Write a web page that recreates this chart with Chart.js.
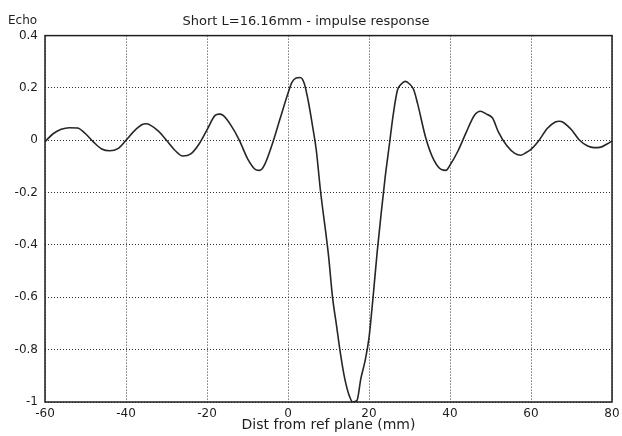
<!DOCTYPE html>
<html>
<head>
<meta charset="utf-8">
<script src="https://cdn.jsdelivr.net/npm/chart.js@4/dist/chart.umd.min.js"></script>
<style>
  html, body { margin: 0; padding: 0; background: #fff; }
  #wrap { width: 622px; height: 436px; }
</style>
</head>
<body>
<div id="wrap"><canvas id="echoChart"></canvas></div>
<script>
// Distance from reference plane (mm) and echo amplitude
const distMm = [-60, -58, -56, -54, -52, -50, -48, -46, -44, -42, -40, -38, -36, -35, -34, -32, -30, -28, -26, -24,
    -22, -20, -18, -17, -16, -14, -12, -10, -8, -7, -6, -4, -2, 0, 1, 2, 3, 4, 5, 6,
    7, 8, 10, 11, 12, 13, 14, 15, 16, 17, 18, 19, 20, 21, 22, 23, 24, 25, 26, 27, 28,
    29, 30, 31, 32, 34, 36, 38, 39, 40, 42, 44, 46, 47.5, 49, 50.5, 52, 54, 56, 57.5, 59,
    60, 62, 64, 66, 67, 68, 70, 72, 74, 75.5, 77, 79, 80];
const echo = [-0.005, 0.025, 0.042, 0.048, 0.047, 0.025, -0.007, -0.033, -0.040, -0.032, 0.0, 0.035, 0.060, 0.063, 0.058, 0.035, 0.0, -0.037, -0.060, -0.052,
    -0.015, 0.040, 0.095, 0.100, 0.095, 0.055, 0.0, -0.070, -0.112, -0.115, -0.100, -0.020, 0.080, 0.180, 0.222, 0.238, 0.240, 0.218, 0.150, 0.060,
    -0.040, -0.190, -0.440, -0.600, -0.710, -0.820, -0.910, -0.970, -1.0, -0.995, -0.910, -0.845, -0.755, -0.600, -0.430, -0.280, -0.140, -0.020, 0.100, 0.190, 0.215,
    0.225, 0.215, 0.195, 0.140, 0.010, -0.075, -0.113, -0.115, -0.095, -0.040, 0.030, 0.095, 0.111, 0.100, 0.085, 0.030, -0.020, -0.050, -0.057, -0.045,
    -0.035, 0.0, 0.045, 0.070, 0.073, 0.068, 0.040, 0.0, -0.022, -0.028, -0.027, -0.012, -0.003];

const xTicks = [-60, -40, -20, 0, 20, 40, 60, 80];
const yTicks = [-1, -0.8, -0.6, -0.4, -0.2, 0, 0.2, 0.4];

const chartTitle = 'Short L=16.16mm - impulse response';
const xTitle = 'Dist from ref plane (mm)';
const yTitle = 'Echo';

const FONT = 'DejaVu Sans';
const INK = '#1e1e1e';

// solid box around the plot and the "Echo" label top-left
const framePlugin = {
    id: 'frame',
    afterDraw(chart) {
        const { ctx, chartArea: a } = chart;
        ctx.save();
        ctx.strokeStyle = INK;
        ctx.lineWidth = 1.5;
        ctx.strokeRect(a.left, a.top, a.right - a.left, a.bottom - a.top);
        ctx.fillStyle = INK;
        ctx.font = '12px "' + FONT + '"';
        ctx.textAlign = 'left';
        ctx.textBaseline = 'middle';
        ctx.fillText(yTitle, 8, 21);
        ctx.restore();
    }
};

const points = distMm.map((d, i) => ({ x: d, y: echo[i] }));

const ctx = document.getElementById('echoChart').getContext('2d');
const echoChart = new Chart(ctx, {
    type: 'line',
    data: {
        datasets: [{
            label: 'Echo',
            data: points,
            borderColor: '#262626',
            borderWidth: 1.6,
            pointRadius: 0,
            fill: false,
            cubicInterpolationMode: 'monotone'
        }]
    },
    plugins: [framePlugin],
    options: {
        responsive: true,
        maintainAspectRatio: false,
        animation: false,
        layout: {
            padding: { top: 0, right: 10, left: 0, bottom: 0 }
        },
        plugins: {
            legend: { display: false },
            tooltip: { enabled: false },
            title: {
                display: true,
                text: chartTitle,
                color: INK,
                font: { family: FONT, size: 13, weight: 'normal' },
                padding: { top: 14, bottom: 6 }
            }
        },
        scales: {
            x: {
                type: 'linear',
                min: -60,
                max: 80,
                afterBuildTicks: function(scale) {
                    scale.ticks = xTicks.map(v => ({ value: v }));
                },
                afterFit: function(scale) {
                    scale.height = 34;
                    scale.paddingLeft = 0;
                    scale.paddingRight = 0;
                },
                ticks: {
                    color: INK,
                    padding: 5,
                    maxRotation: 0,
                    font: { family: FONT, size: 12 },
                    callback: v => String(v)
                },
                grid: {
                    color: '#333',
                    lineWidth: 1,
                    drawTicks: false
                },
                border: { display: false, dash: [1, 2] },
                title: {
                    display: true,
                    text: xTitle,
                    color: INK,
                    font: { family: FONT, size: 14 },
                    padding: { top: 0, bottom: 2 }
                }
            },
            y: {
                min: -1,
                max: 0.4,
                afterBuildTicks: function(scale) {
                    scale.ticks = yTicks.map(v => ({ value: v }));
                },
                afterFit: function(scale) {
                    scale.width = 45;
                },
                ticks: {
                    color: INK,
                    padding: 7,
                    font: { family: FONT, size: 12 },
                    callback: v => String(Math.round(v * 10) / 10)
                },
                grid: {
                    color: '#333',
                    lineWidth: 1,
                    drawTicks: false
                },
                border: { display: false, dash: [1, 2] }
            }
        }
    }
});
</script>
</body>
</html>
